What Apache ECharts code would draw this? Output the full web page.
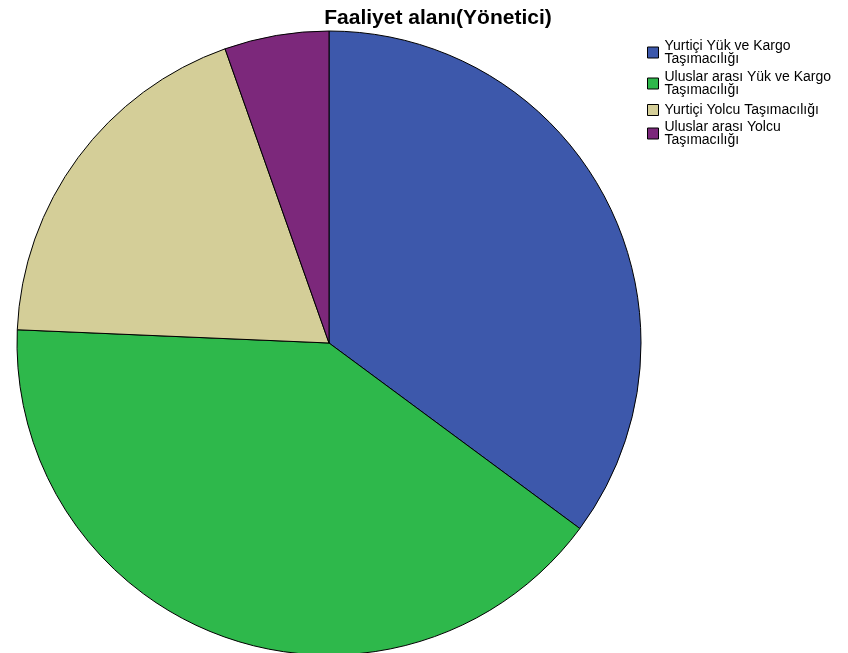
<!DOCTYPE html>
<html>
<head>
<meta charset="utf-8">
<script src="https://cdn.jsdelivr.net/npm/echarts@6/dist/echarts.min.js"></script>
<style>
  html, body { margin: 0; padding: 0; background: #fff; }
  #chart { width: 848px; height: 653px; }
</style>
</head>
<body>
<div id="chart"></div>
<script>
// Faaliyet alanı (Yönetici) — frequency counts per activity area
const categories = [
  'Yurtiçi Yük ve Kargo Taşımacılığı',
  'Uluslar arası Yük ve Kargo Taşımacılığı',
  'Yurtiçi Yolcu Taşımacılığı',
  'Uluslar arası Yolcu Taşımacılığı'
];
const legendLabels = [
  'Yurtiçi Yük ve Kargo\nTaşımacılığı',
  'Uluslar arası Yük ve Kargo\nTaşımacılığı',
  'Yurtiçi Yolcu Taşımacılığı',
  'Uluslar arası Yolcu\nTaşımacılığı'
];
const counts = [13, 15, 7, 2];
const colors = ['#3d58ab', '#2eb84b', '#d4ce98', '#7c287b'];

const FONT = 'Liberation Sans, Arial, sans-serif';

// one legend block per entry so the wrapped and single-line labels stack tightly
const legendTops = [39, 70, 103, 120];
const legends = categories.map((c, i) => ({
  orient: 'vertical',
  left: 647,
  top: legendTops[i],
  padding: 0,
  itemWidth: 11,
  itemHeight: 11,
  itemGap: 0,
  icon: 'rect',
  selectedMode: false,
  data: [c],
  formatter: () => legendLabels[i],
  itemStyle: { borderColor: '#000', borderWidth: 1 },
  textStyle: { fontFamily: FONT, fontSize: 14, lineHeight: 13, color: '#000', padding: [0, 0, 0, 1] }
}));

const chart = echarts.init(document.getElementById('chart'), null, { renderer: 'canvas' });
chart.setOption({
  animation: false,
  backgroundColor: '#ffffff',
  title: {
    text: 'Faaliyet alanı(Yönetici)',
    left: 433,
    top: 3,
    textAlign: 'center',
    textStyle: { fontFamily: FONT, fontSize: 21, fontWeight: 'bold', color: '#000' }
  },
  legend: legends,
  series: [{
    type: 'pie',
    center: [329, 343],
    radius: [0, 312],
    startAngle: 90,
    clockwise: true,
    label: { show: false },
    labelLine: { show: false },
    emphasis: { disabled: true },
    itemStyle: { borderColor: '#000', borderWidth: 1 },
    data: categories.map((c, i) => ({ name: c, value: counts[i], itemStyle: { color: colors[i] } }))
  }]
});
</script>
</body>
</html>
